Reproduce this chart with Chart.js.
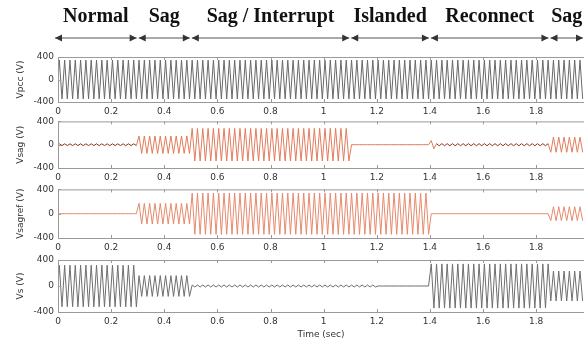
<!DOCTYPE html>
<html>
<head>
<meta charset="utf-8">
<script src="https://cdn.jsdelivr.net/npm/chart.js@4.4.0/dist/chart.umd.min.js"></script>
<style>
body { margin: 0; background: #fff; }
#wrap { position: relative; width: 584px; height: 342px; overflow: hidden; }
canvas { position: absolute; left: 0; }
</style>
</head>
<body>
<div id="wrap">
  <canvas id="c1" width="584" height="120" style="top:0px"></canvas>
  <canvas id="c2" width="584" height="74" style="top:112px"></canvas>
  <canvas id="c3" width="584" height="76" style="top:180px"></canvas>
  <canvas id="c4" width="584" height="92" style="top:250px"></canvas>
</div>
<script>
// operating phases shown above the plots
var phaseNames = ['Normal', 'Sag', 'Sag / Interrupt', 'Islanded', 'Reconnect', 'Sag'];
var phaseBounds = [0, 0.3, 0.5, 1.1, 1.4, 1.85, 1.98];

var xMax = 1.98;
var xTickValues = [0, 0.2, 0.4, 0.6, 0.8, 1, 1.2, 1.4, 1.6, 1.8];
var yTickValues = [-400, 0, 400];
var halfCycle = 0.01; // 50 Hz supply

// envelope: time a level starts (sec) and peak voltage (V)
var vpccTimes = [0];
var vpccPeaks = [345];
var vsagTimes = [0, 0.3, 0.5, 1.1, 1.4, 1.42, 1.85];
var vsagPeaks = [15, 150, 280, 0, 70, 18, 130];
var vsagrefTimes = [0, 0.3, 0.5, 1.4, 1.85];
var vsagrefPeaks = [0, 170, 340, 0, 115];
var vsTimes = [0, 0.3, 0.5, 1.2, 1.4, 1.85];
var vsPeaks = [320, 160, 15, 0, 340, 230];

// one point per half cycle peak, sign alternating
function peakPoints(times, peaks) {
    var pts = [{x: 0, y: 0}];
    for (var k = 0; ; k++) {
        var t = halfCycle / 2 + k * halfCycle;
        if (t > xMax) break;
        var i = 0;
        while (i + 1 < times.length && times[i + 1] <= t) i++;
        pts.push({x: t, y: (k % 2 ? -1 : 1) * peaks[i]});
    }
    return pts;
}

var framePlugin = {
    id: 'frame',
    afterDraw: function (chart) {
        var ctx = chart.ctx, a = chart.chartArea, sx = chart.scales.x, sy = chart.scales.y;
        ctx.save();
        ctx.strokeStyle = '#9a9a9a';
        ctx.lineWidth = 1;
        ctx.strokeRect(a.left + 0.5, a.top + 0.5, a.right - a.left, a.bottom - a.top);
        ctx.beginPath();
        sx.ticks.forEach(function (t) {
            var px = Math.round(sx.getPixelForValue(t.value)) + 0.5;
            ctx.moveTo(px, a.top); ctx.lineTo(px, a.top + 3);
            ctx.moveTo(px, a.bottom); ctx.lineTo(px, a.bottom - 3);
        });
        sy.ticks.forEach(function (t) {
            var py = Math.round(sy.getPixelForValue(t.value)) + 0.5;
            ctx.moveTo(a.left, py); ctx.lineTo(a.left + 3, py);
        });
        ctx.stroke();
        ctx.restore();
    }
};

var headerPlugin = {
    id: 'header',
    afterDraw: function (chart) {
        var ctx = chart.ctx, sx = chart.scales.x;
        var y = 38;
        ctx.save();
        ctx.strokeStyle = '#555';
        ctx.lineWidth = 1.2;
        for (var i = 0; i < phaseNames.length; i++) {
            var x1 = sx.getPixelForValue(phaseBounds[i]) - (i === 0 ? 3 : -1);
            var x2 = Math.min(sx.getPixelForValue(phaseBounds[i + 1]) - 1, 583);
            ctx.beginPath();
            ctx.moveTo(x1, y); ctx.lineTo(x2, y);
            ctx.stroke();
            ctx.fillStyle = '#333';
            ctx.beginPath();
            ctx.moveTo(x1, y); ctx.lineTo(x1 + 7, y - 3.5); ctx.lineTo(x1 + 7, y + 3.5); ctx.closePath();
            ctx.moveTo(x2, y); ctx.lineTo(x2 - 7, y - 3.5); ctx.lineTo(x2 - 7, y + 3.5); ctx.closePath();
            ctx.fill();
            ctx.fillStyle = '#111';
            ctx.font = 'bold 20px "Liberation Serif", "Times New Roman", serif';
            ctx.textAlign = 'center';
            ctx.textBaseline = 'middle';
            ctx.fillText(phaseNames[i], (x1 + x2) / 2, 17);
        }
        ctx.restore();
    }
};

function makePanel(id, points, color, lowColor, yTitle, padTop, xTitle, extraPlugins) {
    var tickFont = {family: '"DejaVu Sans", sans-serif', size: 9};
    return new Chart(document.getElementById(id), {
        type: 'line',
        data: {
            datasets: [{
                data: points,
                borderColor: color,
                borderWidth: 1,
                pointRadius: 0,
                tension: 0,
                segment: {
                    // small ripple segments look darker in the original
                    borderColor: function (c) {
                        var a = Math.abs(c.p0.parsed.y), b = Math.abs(c.p1.parsed.y);
                        return (a > 0 && a < 30 && b < 30) ? lowColor : color;
                    }
                }
            }]
        },
        options: {
            responsive: false,
            animation: false,
            devicePixelRatio: 1,
            layout: {padding: {top: padTop, left: 0, right: 0, bottom: 0}},
            plugins: {legend: {display: false}, tooltip: {enabled: false}},
            scales: {
                x: {
                    type: 'linear',
                    min: 0,
                    max: xMax,
                    grid: {display: false, drawTicks: false},
                    border: {display: false},
                    afterBuildTicks: function (s) {
                        s.ticks = xTickValues.map(function (v) { return {value: v}; });
                    },
                    afterFit: function (s) { s.height = xTitle ? 30 : 18; },
                    ticks: {
                        font: tickFont, color: '#333', padding: 4,
                        maxRotation: 0, autoSkip: false,
                        callback: function (v) { return String(v); }
                    },
                    title: {
                        display: !!xTitle, text: xTitle || '',
                        font: tickFont, color: '#333', padding: {top: 0, bottom: 2}
                    }
                },
                y: {
                    min: -400,
                    max: 400,
                    grid: {display: false, drawTicks: false},
                    border: {display: false},
                    afterBuildTicks: function (s) {
                        s.ticks = yTickValues.map(function (v) { return {value: v}; });
                    },
                    afterFit: function (s) { s.width = 58; },
                    ticks: {font: tickFont, color: '#333', padding: 4},
                    title: {
                        display: true, text: yTitle,
                        font: tickFont, color: '#333', padding: {top: 15, bottom: 0}
                    }
                }
            }
        },
        plugins: [framePlugin].concat(extraPlugins || [])
    });
}

makePanel('c1', peakPoints(vpccTimes, vpccPeaks), '#686868', '#686868', 'Vpcc (V)', 57, null, [headerPlugin]);
makePanel('c2', peakPoints(vsagTimes, vsagPeaks), '#e07c5c', '#8e341a', 'Vsag (V)', 7, null);
makePanel('c3', peakPoints(vsagrefTimes, vsagrefPeaks), '#e58a6c', '#e58a6c', 'Vsagref (V)', 7, null);
makePanel('c4', peakPoints(vsTimes, vsPeaks), '#6e6e6e', '#6e6e6e', 'Vs (V)', 10, 'Time (sec)');
</script>
</body>
</html>
